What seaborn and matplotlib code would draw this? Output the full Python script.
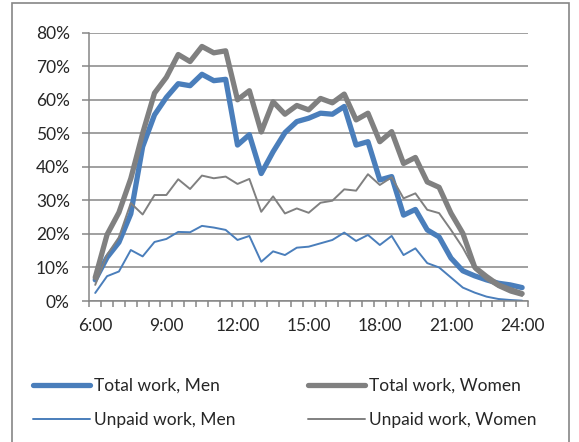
import numpy as np
import pandas as pd
import matplotlib
matplotlib.use("Agg")
import matplotlib.pyplot as plt
import seaborn as sns
from matplotlib.patches import Rectangle
from matplotlib.ticker import FixedLocator, FuncFormatter

# Share of people working, by half-hour slot from 6:00 to 24:00 (%)
tick_labels = ["6:00", "9:00", "12:00", "15:00", "18:00", "21:00", "24:00"]

total_men = [6.3, 13.0, 17.5, 26.0, 46.0, 55.5, 60.7, 64.8, 64.2, 67.6, 65.7, 66.1,
             46.5, 49.6, 38.0, 44.5, 50.2, 53.5, 54.5, 56.0, 55.7, 58.0, 46.5, 47.5,
             36.1, 37.1, 25.6, 27.3, 21.2, 19.1, 12.8, 9.0, 7.5, 6.3, 5.3, 4.8, 4.0]
total_women = [7.0, 19.8, 26.4, 36.5, 50.0, 62.0, 66.7, 73.5, 71.4, 75.9, 74.0, 74.6,
               60.0, 62.7, 50.4, 59.4, 55.7, 58.3, 57.0, 60.4, 59.1, 61.7, 54.0, 56.0,
               47.5, 50.5, 41.0, 42.8, 35.5, 33.9, 26.2, 20.2, 10.1, 7.3, 4.8, 3.4, 2.2]
unpaid_men = [2.4, 7.4, 8.8, 15.2, 13.3, 17.6, 18.5, 20.6, 20.5, 22.4, 21.9, 21.2,
              18.2, 19.4, 11.7, 14.8, 13.7, 15.9, 16.2, 17.2, 18.2, 20.4, 17.9, 19.7,
              16.7, 19.4, 13.7, 15.7, 11.3, 10.0, 7.0, 4.0, 2.5, 1.3, 0.6, 0.3, 0.1]
unpaid_women = [4.8, 13.8, 19.0, 29.2, 25.8, 31.6, 31.6, 36.3, 33.4, 37.4, 36.6, 37.1,
                34.9, 36.4, 26.6, 31.2, 26.1, 27.6, 26.3, 29.3, 29.9, 33.3, 32.9, 37.8,
                34.6, 36.9, 30.6, 32.1, 27.2, 26.2, 21.2, 15.9, 9.4, 6.3, 4.1, 2.5, 1.5]

series = {
    "Total work, Men": (total_men, "#4a7ebb", 3.8),
    "Total work, Women": (total_women, "#808080", 3.8),
    "Unpaid work, Men": (unpaid_men, "#4a7ebb", 1.4),
    "Unpaid work, Women": (unpaid_women, "#808080", 1.4),
}

sns.set_style("white")
plt.rcParams['font.family'] = ['Lato', 'DejaVu Sans']

fig = plt.figure(figsize=(5.79, 4.42), dpi=100)
ax = fig.add_axes([0.1542, 0.319, 0.7578, 0.607])

slots = np.arange(len(total_men))
handles = {}
for name, (vals, color, lw) in series.items():
    df = pd.DataFrame({"slot": slots, "share": vals})
    sns.lineplot(data=df, x="slot", y="share", color=color, linewidth=lw,
                 ax=ax, label=name, legend=False)
    handles[name] = ax.lines[-1]

ax.set_xlim(-0.5, len(slots) - 0.5)
ax.set_ylim(0, 80)
ax.set_yticks(np.arange(0, 81, 10))
ax.yaxis.set_major_formatter(FuncFormatter(lambda v, p: f"{v:.0f}%"))
ax.set_xticks(np.arange(0, len(slots), 6))
ax.set_xticklabels(tick_labels)
ax.xaxis.set_minor_locator(FixedLocator(np.arange(-0.5, len(slots), 1)))
ax.set_xlabel("")
ax.set_ylabel("")

ax.grid(axis="y", color="#868686", linewidth=1.1)
ax.set_axisbelow(True)
for side in ["top", "right"]:
    ax.spines[side].set_visible(False)
for side in ["left", "bottom"]:
    ax.spines[side].set_color("#868686")
    ax.spines[side].set_linewidth(1.1)

ax.tick_params(axis="y", which="major", length=5, width=1.1, color="#868686",
               labelsize=12.5, pad=9, left=True)
ax.tick_params(axis="x", which="major", length=0, labelsize=12.5, pad=12)
ax.tick_params(axis="x", which="minor", length=4, width=1.1, color="#868686",
               bottom=True)

order = ["Total work, Men", "Unpaid work, Men", "Total work, Women", "Unpaid work, Women"]
fig.legend([handles[k] for k in order], order, ncol=2, frameon=False,
           loc="center left", bbox_to_anchor=(0.03, 0.088), fontsize=12.5,
           handlelength=3.3, handletextpad=0.2, columnspacing=4.2,
           labelspacing=1.05)

# chart-area frame like the spreadsheet export
fig.patches.append(Rectangle((11.5 / 579, -0.05), (569 - 11.5) / 579, 1.043,
                             transform=fig.transFigure, fill=False,
                             edgecolor="#868686", linewidth=1.2))

fig.savefig("out.png", dpi=100)
